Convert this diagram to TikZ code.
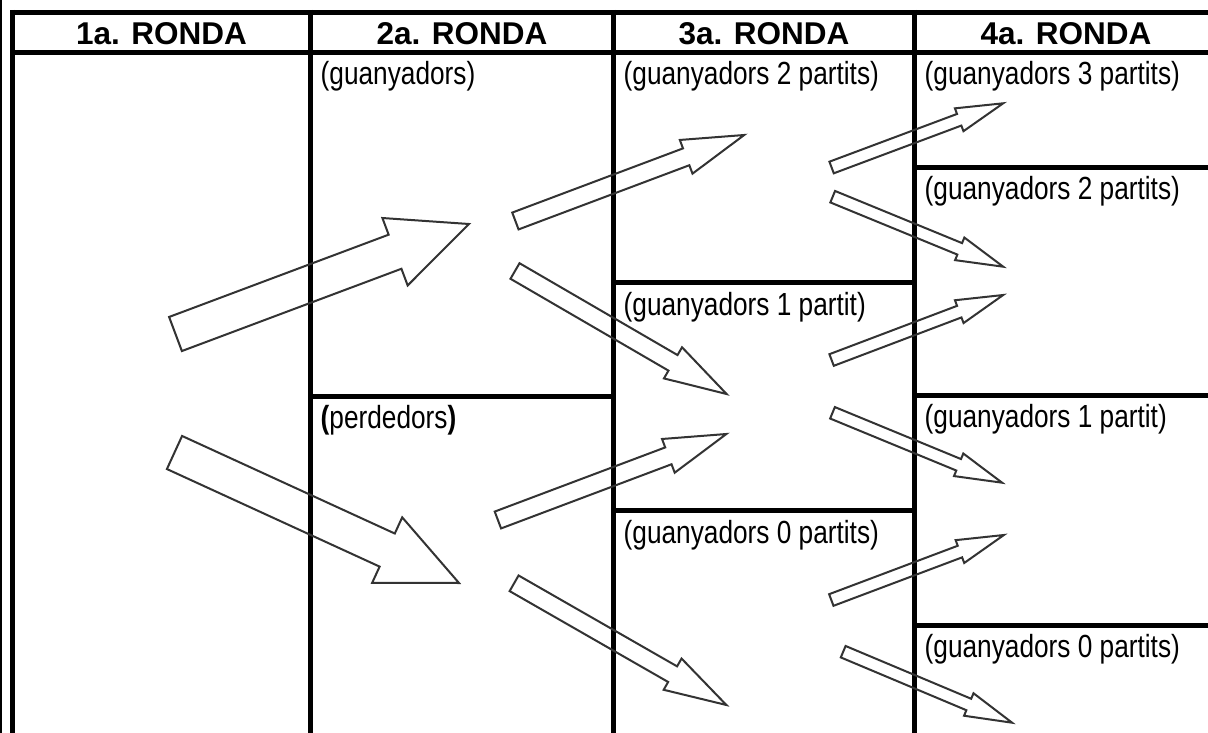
\documentclass[tikz,border=0pt]{standalone}
\usepackage{fontspec}
\setmainfont{Liberation Sans}
\newfontfamily\labelfont[FakeStretch=0.82]{Liberation Sans}
\newfontfamily\headfont{Liberation Sans}
\usetikzlibrary{calc}

\definecolor{outline}{RGB}{51,51,51}

\tikzset{
  rule/.style={line width=5pt, black},
  thinrule/.style={line width=2.3pt, black},
  head/.style={anchor=base, inner sep=0pt, font=\headfont\bfseries\fontsize{31.5}{33}\selectfont},
  lbl/.style={anchor=base west, inner sep=0pt, font=\labelfont\fontsize{32}{34}\selectfont},
  arrowline/.style={line width=2pt, draw=outline, line join=miter},
}

% block arrow from a tail coordinate to a tip coordinate:
% #3 half shaft width, #4 half head width, #5 head length
\newcommand\blockarrow[5]{%
  \coordinate (#1-#2) at ($(#2)!#5!(#1)$);
  \draw[arrowline] ($(#1)!#3!90:(#2)$) -- ($(#1-#2)!#3!90:(#2)$)
    -- ($(#1-#2)!#4!90:(#2)$) -- (#2) -- ($(#1-#2)!#4!-90:(#2)$)
    -- ($(#1-#2)!#3!-90:(#2)$) -- ($(#1)!#3!-90:(#2)$) -- cycle;
}
\newcommand\bigarrow[2]{\blockarrow{#1}{#2}{18.2pt}{36pt}{79pt}}
\newcommand\midarrow[2]{\blockarrow{#1}{#2}{9pt}{18pt}{62pt}}
\newcommand\smallarrow[2]{\blockarrow{#1}{#2}{6.2pt}{12.2pt}{47pt}}

\begin{document}
\begin{tikzpicture}[x=1pt,y=-1pt]
\useasboundingbox (0,0) rectangle (1208,733);
\fill[white] (0,0) rectangle (1208,733);

% table frame
\draw[thinrule] (1.15,0) -- (1.15,733);
\draw[rule] (10,12.5) -- (1220,12.5);
\draw[rule] (10,52.5) -- (1220,52.5);
\foreach \x in {12.5,310.5,613.5,914.5}
  \draw[rule] (\x,10) -- (\x,733);

% cell dividers
\draw[rule] (310.5,396) -- (613.5,396);
\draw[rule] (613.5,282.5) -- (914.5,282.5);
\draw[rule] (613.5,510.5) -- (914.5,510.5);
\draw[rule] (914.5,167.5) -- (1220,167.5);
\draw[rule] (914.5,395) -- (1220,395);
\draw[rule] (914.5,625) -- (1220,625);

% column headings
\node[head] (h1) at (161.5,45) {1a. RONDA};
\node[head] (h2) at (462,45) {2a. RONDA};
\node[head] (h3) at (764,45) {3a. RONDA};
\node[head] (h4) at (1066,45) {4a. RONDA};

% cell labels
\node[lbl] (c2a) at (320.5,85) {(guanyadors)};
\node[lbl] (c2b) at (320.5,428.5) {{\bfseries(}perdedors{\bfseries)}};
\node[lbl] (c3a) at (623.5,85) {(guanyadors 2 partits)};
\node[lbl] (c3b) at (623.5,315) {(guanyadors 1 partit)};
\node[lbl] (c3c) at (623.5,543) {(guanyadors 0 partits)};
\node[lbl] (c4a) at (924.5,85) {(guanyadors 3 partits)};
\node[lbl] (c4b) at (924.5,200) {(guanyadors 2 partits)};
\node[lbl] (c4c) at (924.5,427.5) {(guanyadors 1 partit)};
\node[lbl] (c4d) at (924.5,657.5) {(guanyadors 0 partits)};

% arrow ends
\coordinate (t1) at (175.5,334);   \coordinate (p1) at (469,224);
\coordinate (t2) at (174.5,452.5); \coordinate (p2) at (459,583);
\coordinate (t3) at (515.4,221);   \coordinate (p3) at (744.2,135);
\coordinate (t4) at (515,271);     \coordinate (p4) at (726.6,394);
\coordinate (t5) at (497.9,520);   \coordinate (p5) at (726.4,434);
\coordinate (t6) at (514.1,583.3); \coordinate (p6) at (726.4,705);
\coordinate (t7) at (831.6,167.5); \coordinate (p7) at (1003.2,103.3);
\coordinate (t8) at (832.7,196.7); \coordinate (p8) at (1003.2,266.7);
\coordinate (t9) at (831.6,360);   \coordinate (p9) at (1003.2,295);
\coordinate (t10) at (832.5,412.8); \coordinate (p10) at (1002.1,482.7);
\coordinate (t11) at (831.3,600);  \coordinate (p11) at (1003.9,535);
\coordinate (t12) at (843.2,651.7); \coordinate (p12) at (1012.1,722.7);

% round 1 -> round 2
\bigarrow{t1}{p1}
\bigarrow{t2}{p2}
% round 2 -> round 3
\midarrow{t3}{p3}
\midarrow{t4}{p4}
\midarrow{t5}{p5}
\midarrow{t6}{p6}
% round 3 -> round 4
\smallarrow{t7}{p7}
\smallarrow{t8}{p8}
\smallarrow{t9}{p9}
\smallarrow{t10}{p10}
\smallarrow{t11}{p11}
\smallarrow{t12}{p12}
\end{tikzpicture}
\end{document}
